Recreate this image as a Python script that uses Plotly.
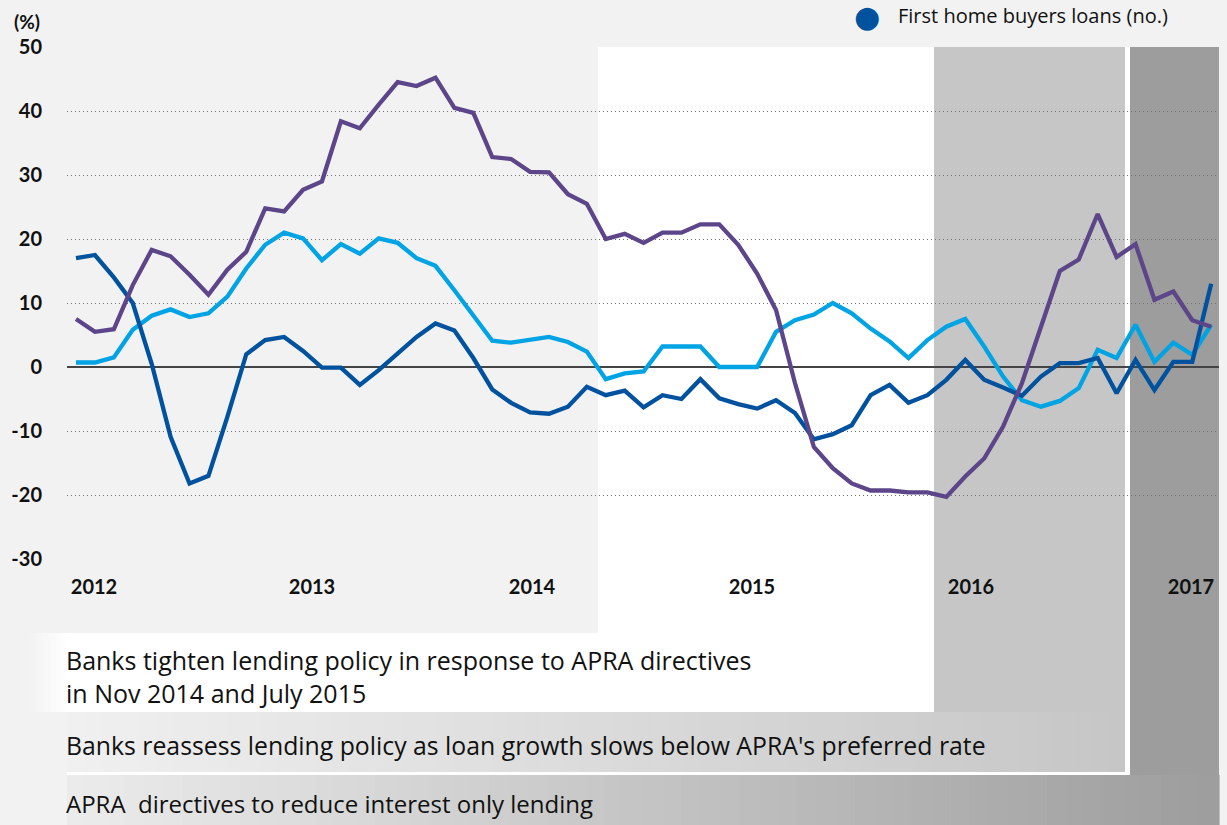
import plotly.graph_objects as go

# ---------------- data ----------------
months = [f"{y}-{m:02d}" for y, m in [(2011, 12)] + [(yy, mm) for yy in range(2012, 2017) for mm in range(1, 13)]]
year_labels = ["2012", "2013", "2014", "2015", "2016", "2017"]

first_home_buyers = [17.0, 17.5, 14.0, 10.0, 0.5, -10.9, -18.2, -17.0, -7.8, 2.0,
                     4.2, 4.7, 2.5, -0.1, -0.1, -2.8, -0.5, 2.1, 4.7, 6.8,
                     5.7, 1.4, -3.5, -5.6, -7.1, -7.3, -6.2, -3.1, -4.4, -3.7,
                     -6.3, -4.4, -5.0, -1.9, -4.9, -5.8, -6.5, -5.2, -7.2, -11.3,
                     -10.5, -9.1, -4.4, -2.8, -5.6, -4.4, -2.0, 1.1, -2.0, -3.2,
                     -4.5, -1.5, 0.6, 0.6, 1.4, -4.1, 1.1, -3.6, 0.8, 0.8, 13.0]

light_blue_series = [0.7, 0.7, 1.5, 5.8, 8.0, 9.0, 7.8, 8.4, 11.0, 15.4,
                     19.1, 21.0, 20.1, 16.7, 19.2, 17.7, 20.1, 19.4, 17.0, 15.8,
                     12.0, 8.1, 4.1, 3.8, 4.3, 4.7, 3.9, 2.4, -1.9, -1.0,
                     -0.7, 3.2, 3.2, 3.2, 0.0, 0.0, 0.0, 5.5, 7.3, 8.2,
                     10.0, 8.4, 6.0, 4.0, 1.4, 4.2, 6.3, 7.5, 3.2, -1.5,
                     -5.2, -6.2, -5.3, -3.3, 2.7, 1.4, 6.6, 0.8, 3.8, 1.9, 6.6]

purple_series = [7.5, 5.5, 5.9, 12.8, 18.3, 17.3, 14.4, 11.3, 15.2, 18.0,
                 24.8, 24.3, 27.7, 29.0, 38.4, 37.3, 41.0, 44.5, 43.9, 45.2,
                 40.5, 39.7, 32.8, 32.5, 30.5, 30.4, 27.0, 25.5, 20.0, 20.8,
                 19.4, 21.0, 21.0, 22.3, 22.3, 19.1, 14.6, 8.9, -2.5, -12.5,
                 -15.8, -18.2, -19.3, -19.3, -19.6, -19.6, -20.3, -17.1, -14.3, -9.3,
                 -2.5, 6.3, 15.0, 16.8, 23.9, 17.2, 19.2, 10.5, 11.8, 7.3, 6.3]

y_ticks = [-30, -20, -10, 0, 10, 20, 30, 40, 50]

# ---------------- layout helpers ----------------
W, H = 1227, 825
def px(x):
    return x / W
def py(y):
    return 1 - y / H

DARK_BLUE = "#00529f"
LIGHT_BLUE = "#00a3e3"
PURPLE = "#5c4589"
TICK_FONT = "Lato"
TEXT_FONT = "Open Sans"
INK = "#111111"

x_idx = list(range(len(months)))
step = 18.92
x0pix = 76
x_range = [(67 - x0pix) / step, (1219 - x0pix) / step]
year_tick_pos = [(p - x0pix) / step for p in [94, 312, 532, 752, 971, 1191]]

fig = go.Figure()
for name, vals, col in [("Series A", light_blue_series, LIGHT_BLUE),
                        ("First home buyers loans (no.)", first_home_buyers, DARK_BLUE),
                        ("Series B", purple_series, PURPLE)]:
    fig.add_trace(go.Scatter(x=x_idx, y=vals, mode="lines", name=name,
                             line=dict(color=col, width=4.3), showlegend=False,
                             hoverinfo="skip"))

shapes = []
def rect(x0, x1, y0, y1, color):
    shapes.append(dict(type="rect", xref="paper", yref="paper",
                       x0=px(x0), x1=px(x1), y0=py(y1), y1=py(y0),
                       fillcolor=color, line=dict(width=0), layer="below"))

def lerp_col(c0, c1, t):
    return "rgb(%d,%d,%d)" % tuple(round(a + (b - a) * t) for a, b in zip(c0, c1))

def hgrad(x0, x1, y0, y1, c0, c1, n=60):
    w = (x1 - x0) / n
    for k in range(n):
        rect(x0 + k * w, x0 + (k + 1) * w + 0.6, y0, y1, lerp_col(c0, c1, (k + 0.5) / n))

# white zone (Nov 2014 - Jul 2015 directives)
rect(598, 934, 47, 712, "#ffffff")
hgrad(30, 67, 633, 712, (242, 242, 242), (255, 255, 255), n=10)
rect(67, 598, 633, 712, "#ffffff")
# mid grey zone
rect(934, 1125, 47, 712, "#c5c6c5")
hgrad(67, 1125, 712, 772, (240, 240, 240), (197, 198, 197))
# white separators
rect(1125, 1130, 47, 775, "#ffffff")
rect(67, 1130, 772, 775, "#ffffff")
# dark grey zone
rect(1130, 1219, 47, 825, "#9c9d9c")
hgrad(67, 1219, 775, 825, (236, 236, 236), (156, 157, 156))

fig.update_layout(shapes=shapes)

def ann(text, x, y, size, family=TEXT_FONT, color=INK, xanchor="left"):
    return dict(text=text, x=px(x), y=py(y), xref="paper", yref="paper",
                xanchor=xanchor, yanchor="middle", showarrow=False, align="left",
                font=dict(family=family, size=size, color=color))

anns = [
    ann("<b>(%)</b>", 12, 21, 19, family=TICK_FONT),
    ann("●", 867, 16, 30, family="DejaVu Sans", color=DARK_BLUE, xanchor="center"),
    ann("First home buyers loans (no.)", 896, 15, 20),
    ann("Banks tighten lending policy in response to APRA directives<br>in Nov 2014 and July 2015",
        64, 676, 25),
    ann("Banks reassess lending policy as loan growth slows below APRA's preferred rate", 64, 745, 24.8),
    ann("APRA  directives to reduce interest only lending", 64, 803, 24),
]

fig.update_layout(
    width=W, height=H,
    margin=dict(l=0, r=0, t=0, b=0, autoexpand=False),
    paper_bgcolor="#f2f2f2",
    plot_bgcolor="rgba(0,0,0,0)",
    annotations=anns,
    showlegend=False,
    xaxis=dict(domain=[px(67), px(1219)], range=x_range, showgrid=False, zeroline=False,
               showline=False, ticks="", tickvals=year_tick_pos, ticktext=year_labels,
               tickfont=dict(family=TICK_FONT, size=20, color=INK, weight="bold"),
               ticklabelstandoff=14, automargin=False, fixedrange=True),
    yaxis=dict(domain=[py(559), py(47)], range=[-30, 50], tickvals=y_ticks,
               ticktext=[str(v) for v in y_ticks], showgrid=True,
               gridcolor="#707070", griddash="1.3px,2.7px", gridwidth=1.3,
               zeroline=True, zerolinecolor="#444444", zerolinewidth=1.6,
               showline=False, ticks="",
               tickfont=dict(family=TICK_FONT, size=20, color=INK, weight="bold"),
               ticklabelstandoff=24, automargin=False, fixedrange=True),
)

fig.write_html("out.html", config={"displayModeBar": False},
               post_script="document.body.style.margin='0';document.body.style.overflow='hidden';")
